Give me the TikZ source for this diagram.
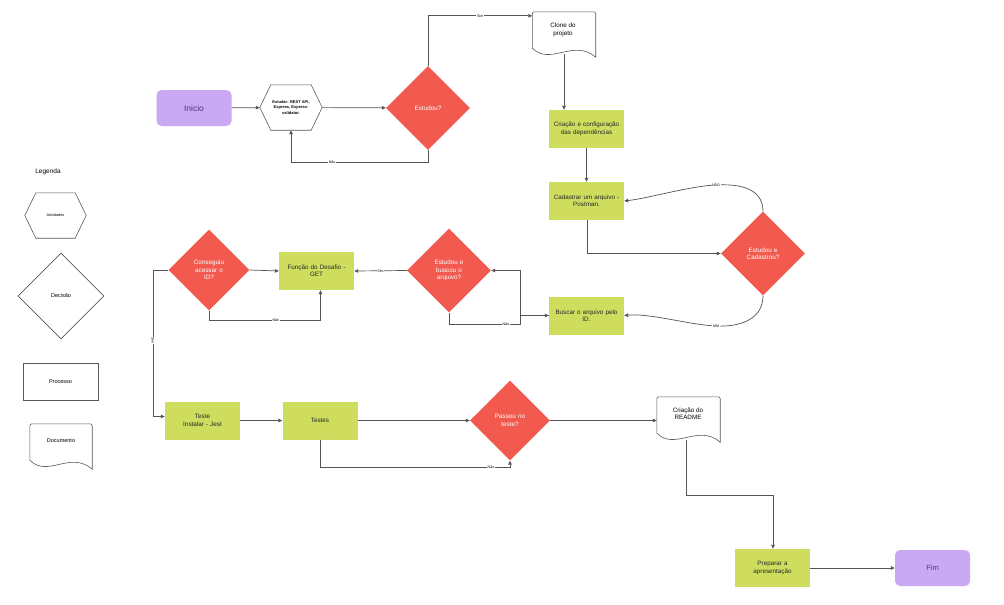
\documentclass[tikz,border=0pt]{standalone}
\usepackage{fontspec}
\setmainfont{Liberation Sans}
\usetikzlibrary{shapes.geometric,arrows.meta}
\definecolor{lilac}{HTML}{C9A9F2}
\definecolor{lilactext}{HTML}{5A2E8E}
\definecolor{redd}{HTML}{F25A4F}
\definecolor{lime}{HTML}{CFDD5E}
\definecolor{linec}{HTML}{555555}
\hyphenpenalty=10000
\exhyphenpenalty=10000
\begin{document}
\begin{tikzpicture}[x=1pt,y=-1pt,
  every node/.style={font=\fontsize{6.3}{7.3}\selectfont, align=center, inner sep=1pt},
  term/.style={rounded corners=5pt, fill=lilac, text=lilactext, minimum width=75pt, minimum height=36pt, font=\fontsize{8.5}{10}\selectfont},
  procbox/.style={fill=lime, minimum width=75pt, minimum height=38pt, text width=72pt, text=black!85},
  decis/.style={diamond, aspect=1, fill=redd, text=white, minimum width=84pt, minimum height=84pt, inner sep=0pt, text width=40pt},
  hexnode/.style={minimum width=62pt, minimum height=45pt, text width=50pt},
  docnode/.style={minimum width=63pt, minimum height=42pt, text width=55pt},
  outl/.style={draw=black!65, line width=0.6pt, fill=white},
  arr/.style={draw=linec, line width=0.7pt, -{Triangle[length=4pt,width=3.5pt]}},
  lbl/.style={fill=white, font=\fontsize{3.6}{4}\selectfont, inner sep=0.6pt},
  docpath/.style={outl}
]
\useasboundingbox (0,0) rectangle (1004,605);
\fill[white] (0,0) rectangle (1004,605);

% ---------- legend ----------
\node[font=\fontsize{6.5}{8}\selectfont] (legtitle) at (48,172) {Legenda};
\node[hexnode, minimum width=61pt] (leghex) at (55.5,215.5) {};
\draw[outl] (leghex.west) -- ([xshift=11]leghex.north west) -- ([xshift=-11]leghex.north east) -- (leghex.east) -- ([xshift=-11]leghex.south east) -- ([xshift=11]leghex.south west) -- cycle;
\node[font=\fontsize{3.8}{4.5}\selectfont] at (leghex) {Atividades};
\node[diamond, aspect=1, outl, minimum width=86pt, minimum height=86pt, inner sep=0pt, font=\fontsize{5.5}{6.5}\selectfont] (legdec) at (61,296) {Decisão};
\node[outl, minimum width=75pt, minimum height=37pt, font=\fontsize{5.5}{6.5}\selectfont] (legproc) at (60.5,381.5) {Processo};
\node[docnode, minimum width=62pt, minimum height=42pt] (legdoc) at (61,445) {};
\draw[docpath] ([yshift=6]legdoc.south west) -- ([yshift=-2]legdoc.north west) to[out=90,in=180] ([xshift=2]legdoc.north west) -- ([xshift=-2]legdoc.north east) to[out=0,in=90] ([yshift=-2]legdoc.north east) -- ([yshift=-3]legdoc.south east) .. controls ([xshift=-22,yshift=16]legdoc.south east) and ([xshift=18,yshift=-12]legdoc.south west) .. ([yshift=6]legdoc.south west) -- cycle;
\node[font=\fontsize{5.5}{6.5}\selectfont] at (61,441) {Documento};

% ---------- top row ----------
\node[term] (inicio) at (194,108) {Inicio};
\node[hexnode] (hex) at (291,107.5) {};
\draw[outl] (hex.west) -- ([xshift=11]hex.north west) -- ([xshift=-11]hex.north east) -- (hex.east) -- ([xshift=-11]hex.south east) -- ([xshift=11]hex.south west) -- cycle;
\node[font=\bfseries\fontsize{4}{5.2}\selectfont] at (hex) {Estudar: REST API,\\Express, Express-\\validator.};
\node[decis] (estudou) at (428,108) {Estudou?};

\node[docnode] (clone) at (564,33) {};
\draw[docpath] ([yshift=6]clone.south west) -- ([yshift=-2]clone.north west) to[out=90,in=180] ([xshift=2]clone.north west) -- ([xshift=-2]clone.north east) to[out=0,in=90] ([yshift=-2]clone.north east) -- ([yshift=-3]clone.south east) .. controls ([xshift=-22,yshift=16]clone.south east) and ([xshift=18,yshift=-12]clone.south west) .. ([yshift=6]clone.south west) -- cycle;
\node at (563,30) {Clone do\\projeto};

\node[procbox] (criacao) at (586.5,129) {Criação e configuração\\das dependências};
\node[procbox] (cadastrar) at (586.5,201) {Cadastrar um arquivo -\\Postman.};
\node[decis] (estcad) at (763,253.5) {Estudou e\\Cadastrou?};
\node[procbox] (buscar) at (586.5,315.5) {Buscar o arquivo pelo\\ID.};

% ---------- middle row ----------
\node[decis] (estbus) at (449,270.5) {Estudou e\\buscou o\\arquivo?};
\node[procbox] (funcao) at (316.5,271) {Função do Desafio -\\GET};
\node[decis, minimum width=81pt, minimum height=81pt] (conseg) at (209,270) {Conseguiu\\acessar o\\ID?};

% ---------- bottom row ----------
\node[procbox] (teste) at (202.5,420.5) {Teste\\Instalar - Jest};
\node[procbox] (testes) at (320,420.5) {Testes};
\node[decis, minimum width=80pt, minimum height=80pt] (passou) at (510,420.5) {Passou no\\teste?};
\node[docnode] (readme) at (688.5,418) {};
\draw[docpath] ([yshift=6]readme.south west) -- ([yshift=-2]readme.north west) to[out=90,in=180] ([xshift=2]readme.north west) -- ([xshift=-2]readme.north east) to[out=0,in=90] ([yshift=-2]readme.north east) -- ([yshift=-3]readme.south east) .. controls ([xshift=-22,yshift=16]readme.south east) and ([xshift=18,yshift=-12]readme.south west) .. ([yshift=6]readme.south west) -- cycle;
\node at (688,414) {Criação do\\README};
\node[procbox] (preparar) at (772.5,568) {Preparar a\\apresentação};
\node[term, font=\fontsize{7.5}{9}\selectfont] (fim) at (932.5,568) {Fim};

% ---------- connectors ----------
\draw[arr] (inicio) -- (hex);
\draw[arr] (hex) -- (estudou);
\draw[arr] (estudou.north) |- node[lbl, pos=0.75] {Sim} ([yshift=-4]clone.north west);
\draw[arr] (estudou.south) -- ++(0,12) -| node[lbl, pos=0.35] {Não} (hex.south);
\coordinate (clonebot) at (564,54);
\draw[arr] (clonebot) -- (criacao.north -| clonebot);
\draw[arr] (criacao.south) -- (cadastrar.north);
\draw[arr] ([xshift=1]cadastrar.south) |- (estcad.west);
\draw[arr] (estcad.north) .. controls (763,186) and (735,184) .. (716,185) .. controls (690,186) and (650,198) .. (cadastrar.east);
\node[lbl] at (716,185) {NÃO};
\draw[arr] (estcad.south) .. controls (763,322) and (735,327) .. (716,326) .. controls (690,325) and (650,313) .. (buscar.east);
\node[lbl] at (716,326) {SIM};
\coordinate (jn) at (520,315.5);
\draw[arr] (buscar.west) -- (jn) |- (estbus.east);
\draw[arr] (estbus.south) -- ++(0,12) -| node[lbl, pos=0.4] {Não} (jn) -- (buscar.west);
\draw[arr] (estbus.west) -- node[lbl] {Sim} (funcao.east);
\draw[arr] (conseg.east) -- (funcao.west);
\draw[arr] (conseg.south) -- ++(0,10) -| node[lbl, pos=0.3] {Não} ([xshift=4]funcao.south);
\coordinate (lft) at (153,270);
\draw[arr] (conseg.west) -- (lft) |- node[lbl, pos=0.24, rotate=-90] {Sim} ([yshift=4]teste.west);
\draw[arr] (teste) -- (testes);
\draw[arr] (testes) -- (passou);
\draw[arr] (testes.south) -- ++(0,28) -| node[lbl, pos=0.45] {Não} (passou.south);
\draw[arr] (passou.east) -- (passou.east -| readme.west);
\coordinate (readbot) at (686,440);
\draw[arr] (readbot) |- (773,495) -- (preparar.north -| 773,495);
\draw[arr] (preparar) -- (fim);
\end{tikzpicture}
\end{document}
